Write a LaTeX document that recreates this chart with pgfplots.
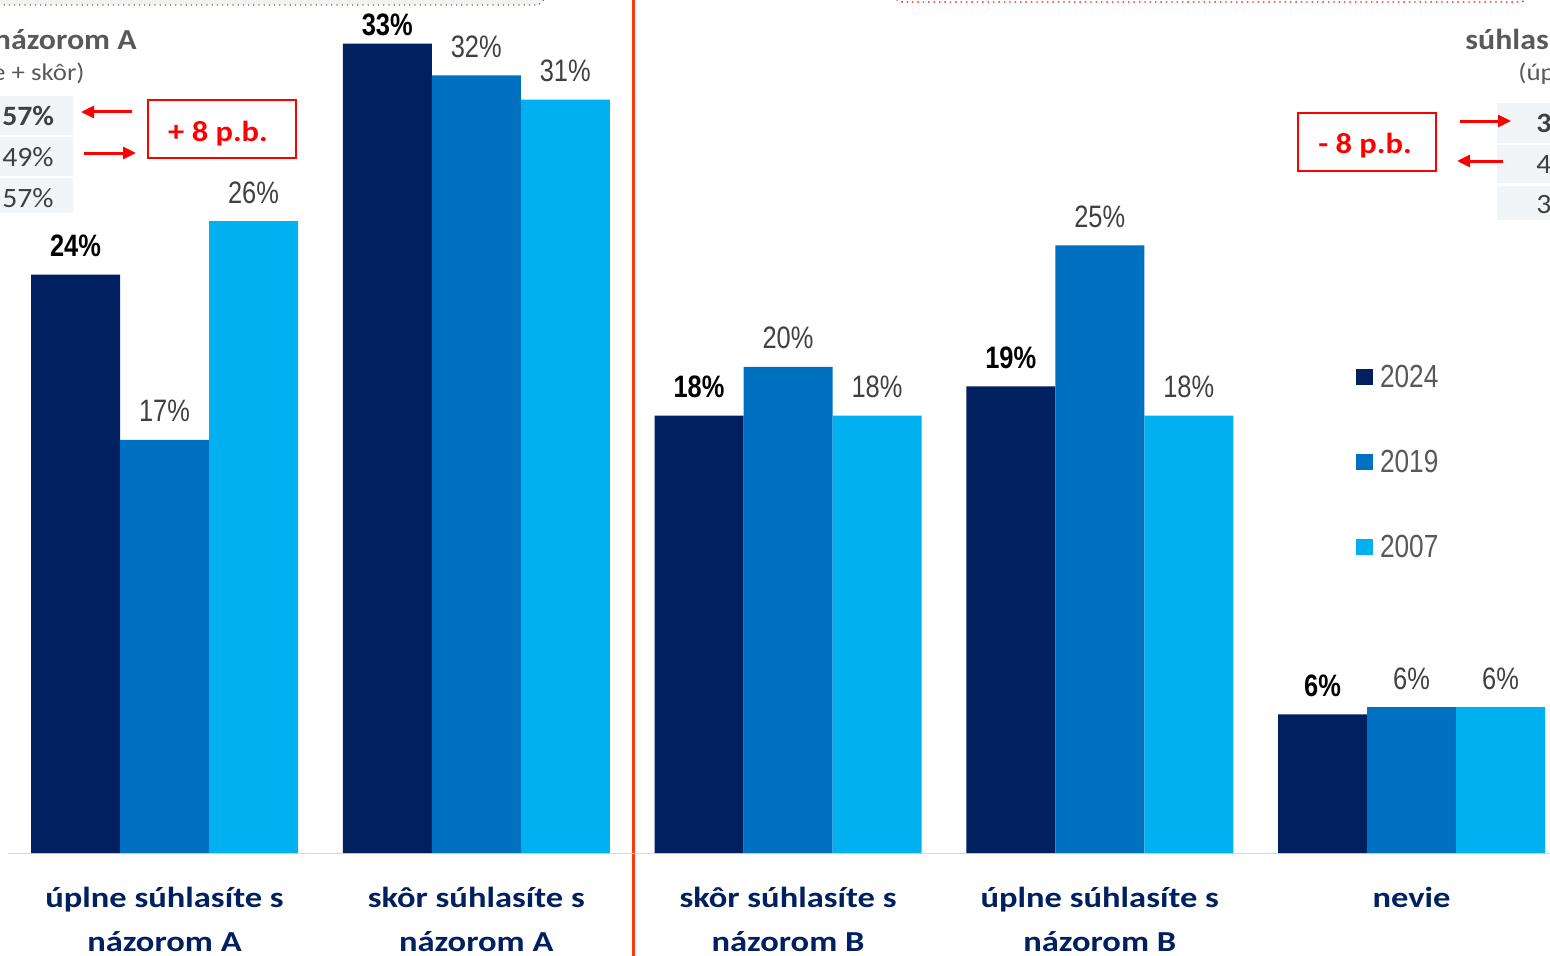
\documentclass[border=0pt]{standalone}
\usepackage{pgfplots}
\pgfplotsset{compat=1.18}
\usepackage{graphicx}
\usepackage{fontspec}
\setmainfont{Carlito}
\newfontfamily\narrowfont{Liberation Sans}
\usetikzlibrary{arrows.meta}
\definecolor{c24}{HTML}{002060}
\definecolor{c19}{HTML}{0070C0}
\definecolor{c07}{HTML}{00B0F0}
\definecolor{sepred}{HTML}{FF3B0A}
\definecolor{axgray}{HTML}{D9D9D9}
\definecolor{txtgray}{HTML}{404040}
\definecolor{leggray}{HTML}{595959}
\definecolor{cellbg}{HTML}{F1F5F8}
\definecolor{dotgreen}{HTML}{548235}
\definecolor{annred}{HTML}{FF0000}
\newcommand{\nar}[1]{\scalebox{0.82}[1]{#1}}
\newcommand{\wid}[2]{\scalebox{#1}[1]{#2}}
\newcommand{\cat}[1]{\scalebox{1.19}[1]{\begin{tabular}{@{}c@{}}#1\end{tabular}}}
\begin{document}
\begin{tikzpicture}[x=0.5pt,y=0.5pt]
\useasboundingbox (0,-102) rectangle (1550,853);
% top frame remnants
\draw[dotted, line width=0.6pt, dotgreen, fill=gray!10, rounded corners=5pt] (-30,848) rectangle (545,900);
\draw[dotted, line width=0.7pt, annred, rounded corners=5pt] (893,851) rectangle (1530,900);
% separator line
\draw[line width=1.5pt, sepred] (633,-110) -- (633,860);
% baseline
\draw[line width=0.8pt, axgray] (8,-0.6) -- (1550,-0.6);
\begin{axis}[
  at={(0,0)}, anchor=south west,
  scale only axis, width=775pt, height=426.5pt,
  xmin=-0.5277, xmax=4.4443, ymin=0, ymax=35.1,
  clip=false,
  axis line style={draw=none},
  major tick length=0pt,
  ytick=\empty,
  xtick={0,1,2,3,4},
  xticklabels={{\cat{úplne súhlasíte s\\názorom A}},{\cat{skôr súhlasíte s\\názorom A}},{\cat{skôr súhlasíte s\\názorom B}},{\cat{úplne súhlasíte s\\názorom B}},{\cat{nevie}}},
  xticklabel style={anchor=north, inner sep=0pt, yshift=-11.8pt,
     font=\fontsize{14.5}{21.8}\selectfont\bfseries, text=c24},
  ybar, bar width=0.2855,
  point meta=explicit symbolic,
  visualization depends on={y \as \rawy},
  nodes near coords={\nar{\pgfplotspointmeta}},
  nodes near coords style={anchor=base, inner sep=0pt, yshift={ifthenelse(\rawy>33,4,9)}},
  legend style={at={(0.87484,0.5733)}, anchor=north west, draw=none, fill=none,
     inner sep=0pt, outer sep=0pt, row sep=30.5pt, column sep=3.5pt,
     font=\narrowfont\fontsize{16}{19}\selectfont, text=leggray,
     nodes={inner sep=0pt, text height=12pt, text depth=0pt}},
  legend cell align=left,
  legend image code/.code={\path[#1, draw=none] (0pt,-4.5pt) rectangle (8.5pt,3.5pt);},
]
\addplot[fill=c24, draw=none, bar shift=-0.2855,
  nodes near coords style={font=\narrowfont\bfseries\fontsize{15.5}{18}\selectfont, text=black}]
  coordinates {(0,23.8) [24\%] (1,33.3) [33\%] (2,18.0) [18\%] (3,19.2) [19\%] (4,5.7) [6\%]};
\addlegendentry{\nar{2024}}
\addplot[fill=c19, draw=none, bar shift=0,
  nodes near coords style={font=\narrowfont\fontsize{15.5}{18}\selectfont, text=txtgray}]
  coordinates {(0,17.0) [17\%] (1,32.0) [32\%] (2,20.0) [20\%] (3,25.0) [25\%] (4,6.0) [6\%]};
\addlegendentry{\nar{2019}}
\addplot[fill=c07, draw=none, bar shift=0.2855,
  nodes near coords style={font=\narrowfont\fontsize{15.5}{18}\selectfont, text=txtgray}]
  coordinates {(0,26.0) [26\%] (1,31.0) [31\%] (2,18.0) [18\%] (3,18.0) [18\%] (4,6.0) [6\%]};
\addlegendentry{\nar{2007}}
\end{axis}
% left annotation block
\node[anchor=base east, inner sep=0pt, text=leggray, font=\fontsize{14.5}{17}\selectfont\bfseries] at (137,803) {\wid{1.1}{súhlasíte s názorom A}};
\node[anchor=base east, inner sep=0pt, text=leggray, font=\fontsize{12}{14}\selectfont] at (85,772) {\wid{1.12}{(úplne + skôr)}};
\fill[cellbg] (-5,757) rectangle (73,718);
\fill[cellbg] (-5,716) rectangle (73,677);
\fill[cellbg] (-5,675) rectangle (73,640);
\node[anchor=base west, inner sep=0pt, text=txtgray, font=\fontsize{14}{16}\selectfont\bfseries] at (2,727) {\wid{1.06}{57\%}};
\node[anchor=base west, inner sep=0pt, text=txtgray, font=\fontsize{14}{16}\selectfont] at (2,687) {\wid{1.06}{49\%}};
\node[anchor=base west, inner sep=0pt, text=txtgray, font=\fontsize{14}{16}\selectfont] at (2,646) {\wid{1.06}{57\%}};
\draw[line width=1pt, annred] (148,753) rectangle (296,695);
\node[text=annred, font=\fontsize{14.5}{17}\selectfont\bfseries, inner sep=0pt] at (218,719) {\wid{1.12}{+ 8 p.b.}};
\draw[line width=1.5pt, annred, -{Triangle[length=6.5pt,width=6pt]}] (132,741) -- (81,741);
\draw[line width=1.5pt, annred, -{Triangle[length=6.5pt,width=6pt]}] (84,700) -- (136,700);
% right annotation block
\node[anchor=base west, inner sep=0pt, text=leggray, font=\fontsize{14.5}{17}\selectfont\bfseries] at (1465,803) {\wid{1.1}{súhlasíte s názorom B}};
\node[anchor=base west, inner sep=0pt, text=leggray, font=\fontsize{12}{14}\selectfont] at (1518,772) {\wid{1.12}{(úplne + skôr)}};
\fill[cellbg] (1497,750) rectangle (1560,710);
\fill[cellbg] (1497,708) rectangle (1560,670);
\fill[cellbg] (1497,667) rectangle (1560,633);
\node[anchor=base west, inner sep=0pt, text=txtgray, font=\fontsize{14}{16}\selectfont\bfseries] at (1536,720) {\wid{1.06}{37\%}};
\node[anchor=base west, inner sep=0pt, text=txtgray, font=\fontsize{14}{16}\selectfont] at (1536,680) {\wid{1.06}{45\%}};
\node[anchor=base west, inner sep=0pt, text=txtgray, font=\fontsize{14}{16}\selectfont] at (1536,640) {\wid{1.06}{36\%}};
\draw[line width=1pt, annred] (1298,740) rectangle (1436,682);
\node[text=annred, font=\fontsize{14.5}{17}\selectfont\bfseries, inner sep=0pt] at (1365,707) {\wid{1.12}{- 8 p.b.}};
\draw[line width=1.5pt, annred, -{Triangle[length=6.5pt,width=6pt]}] (1460,732) -- (1511,732);
\draw[line width=1.5pt, annred, -{Triangle[length=6.5pt,width=6pt]}] (1503,692) -- (1457,692);
\end{tikzpicture}
\end{document}
